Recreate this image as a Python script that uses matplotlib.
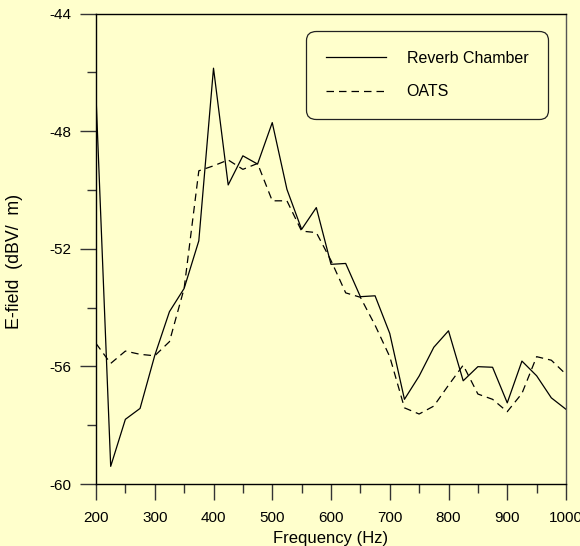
import numpy as np
import matplotlib
matplotlib.use("Agg")
import matplotlib.pyplot as plt

freq = np.arange(200, 1001, 25)

reverb = [-46.8, -59.4, -57.8, -57.43, -55.63, -54.14, -53.35, -51.73, -45.86,
          -49.83, -48.84, -49.12, -47.71, -49.98, -51.34, -50.6, -52.53, -52.5,
          -53.63, -53.6, -54.88, -57.12, -56.33, -55.35, -54.79, -56.49, -56.01,
          -56.03, -57.24, -55.82, -56.32, -57.07, -57.46]

oats = [-55.22, -55.9, -55.48, -55.59, -55.64, -55.16, -53.35, -49.35, -49.18,
        -48.98, -49.3, -49.1, -50.37, -50.37, -51.4, -51.45, -52.4, -53.5,
        -53.65, -54.6, -55.67, -57.41, -57.62, -57.35, -56.64, -55.96, -56.94,
        -57.12, -57.54, -56.92, -55.67, -55.79, -56.27]

series_names = ["Reverb Chamber", "OATS"]
xticks = np.arange(200, 1001, 100)
yticks = np.arange(-60, -43, 4)

bg = "#FFFFCC"
plt.rcParams["font.family"] = ["Liberation Sans", "DejaVu Sans"]

fig = plt.figure(figsize=(5.8, 5.46), dpi=100, facecolor=bg)
ax = fig.add_axes([96/580, 1 - 484/546, 470/580, 470.5/546], facecolor=bg)

ax.plot(freq, reverb, color="black", lw=0.9, label=series_names[0])
ax.plot(freq, oats, color="black", lw=0.9, ls=(0, (6, 4)), label=series_names[1])

ax.set_xlim(200, 1000)
ax.set_ylim(-60, -44)
ax.set_xticks(xticks)
ax.set_xticks(np.arange(250, 1000, 100), minor=True)
ax.set_yticks(yticks)
ax.set_yticks(np.arange(-58, -44, 4), minor=True)
ax.set_yticklabels([str(v) for v in yticks])

ax.tick_params(which="major", direction="out", length=11.5, width=1.0,
               color="#333333", labelsize=11, pad=6)
ax.tick_params(which="minor", direction="out", length=6.5, width=1.0, color="#333333")
ax.tick_params(axis="x", which="major", pad=8)

for s in ["left", "bottom", "top"]:
    ax.spines[s].set_color("black")
    ax.spines[s].set_linewidth(1.0)
ax.spines["right"].set_color("#555555")
ax.spines["right"].set_linewidth(1.0)

ax.set_xlabel("Frequency (Hz)", fontsize=12)
ax.xaxis.set_label_coords(0.5, -0.1)
ax.set_ylabel("E-field  (dBV/  m)", fontsize=12.8)
ax.yaxis.set_label_coords(-0.155, 0.472)

leg = ax.legend(loc="upper right", bbox_to_anchor=(0.962, 0.963),
                prop={"size": 11.5},
                handlelength=3.75, handletextpad=1.3, labelspacing=1.15,
                borderpad=1.25, borderaxespad=0, fancybox=True,
                facecolor=bg, edgecolor="#222222", framealpha=1)
leg.get_frame().set_linewidth(0.9)
leg.get_frame().set_boxstyle("round", pad=0, rounding_size=0.6)

fig.savefig("out.png", dpi=100, facecolor=bg)
